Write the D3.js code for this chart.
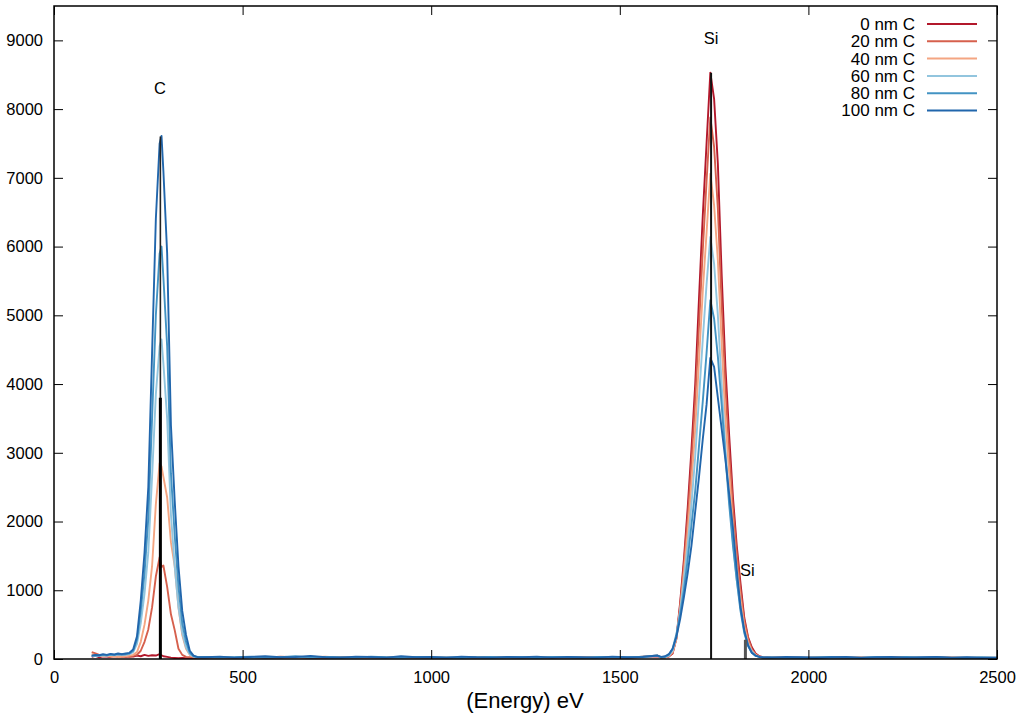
<!DOCTYPE html>
<html>
<head>
<meta charset="utf-8">
<script src="https://cdn.jsdelivr.net/npm/d3@7"></script>
<style>
  html, body { margin: 0; padding: 0; background: #fff; }
  svg { display: block; }
  text { font-family: "Liberation Sans", Arial, Helvetica, sans-serif; fill: #000; }
</style>
</head>
<body>
<svg id="chart" width="1024" height="722"></svg>
<script>
// ---------------- DATA ----------------
const energy = [
  100,110,120,130,140,150,160,170,180,
  190,200,210,220,230,240,250,260,270,280,285,290,300,310,320,330,340,350,360,370,380,
  400,440,480,520,560,600,640,680,720,760,800,840,880,920,960,1000,1040,1080,1120,1160,1200,1240,1280,1320,1360,1400,1440,1480,1520,1560,1600,
  1610,1620,1630,1640,1650,1660,1670,1680,1690,1700,1710,1720,1730,1740,1750,1760,1770,1780,1790,1800,1810,1820,1830,1840,1850,1860,1870,1880,
  1900,1940,1980,2020,2060,2100,2140,2180,2220,2260,2300,2340,2380,2420,2460,2500
];

const seriesNames = ["0 nm C", "20 nm C", "40 nm C", "60 nm C", "80 nm C", "100 nm C"];

const counts0 = [
  30,45,25,40,35,30,45,35,40,
  30,40,35,50,40,60,45,55,50,70,55,40,30,20,15,10,15,10,15,10,15,
  15,20,10,25,15,20,30,15,20,25,10,20,15,25,20,15,10,20,25,15,20,10,15,25,20,15,20,10,25,30,40,
  20,25,35,80,300,820,1450,2200,3050,4000,5250,6450,7500,8530,8150,7200,5600,4250,3250,2350,1650,1100,600,320,170,80,40,25,
  20,15,25,10,20,15,20,10,25,15,20,15,10,20,15,10
];
const counts20 = [
  100,80,60,50,45,40,35,40,30,
  40,30,45,60,120,250,430,750,1200,1480,1340,1360,1050,650,420,150,60,30,25,20,20,
  20,25,15,30,20,35,25,20,15,30,25,20,30,15,25,20,30,25,15,20,30,20,25,15,30,25,20,30,15,35,45,
  25,30,40,90,290,780,1370,2050,2850,3750,4850,5950,6950,7880,7450,6550,5150,3950,3000,2200,1550,1000,560,300,140,70,35,30,
  25,20,15,30,20,25,15,20,30,20,15,25,20,15,20,15
];
const counts40 = [
  70,55,45,40,50,35,40,30,35,
  40,50,60,100,250,500,850,1350,2250,2850,2800,2650,2350,1700,1350,750,350,150,60,35,25,
  25,15,20,25,30,20,15,25,35,20,15,25,20,30,15,25,20,15,30,25,15,20,30,20,15,25,30,20,25,30,50,
  20,20,45,100,300,720,1250,1850,2550,3350,4350,5350,6200,7060,6600,5800,4600,3500,2700,1950,1350,880,480,250,120,60,30,20,
  15,25,20,15,25,20,30,15,20,25,20,15,25,20,15,20
];
const counts60 = [
  40,50,45,55,50,60,55,60,65,
  60,70,100,220,520,950,1550,2650,3850,4550,4650,4300,3500,2100,1350,750,380,170,70,35,25,
  20,30,25,15,25,30,20,35,25,15,30,20,25,15,30,20,25,30,20,15,25,30,20,25,30,20,15,25,30,25,45,
  25,30,50,120,320,700,1150,1650,2250,2950,3800,4650,5450,6140,5750,5000,4000,3050,2350,1700,1150,740,400,210,110,50,30,25,
  20,15,25,20,15,25,20,30,15,20,25,20,15,25,20,15
];
const counts80 = [
  45,55,50,60,55,65,60,70,65,
  70,80,120,280,700,1250,2050,3500,5000,5900,6000,5550,4550,2700,1800,1050,520,250,90,40,25,
  30,20,25,35,20,25,40,20,30,25,20,35,25,20,30,25,20,15,25,30,20,25,15,30,25,20,30,25,20,35,50,
  25,30,60,150,360,650,1000,1450,1950,2450,3100,3750,4450,5220,4950,4400,3700,2950,2250,1650,1150,700,380,190,90,45,30,20,
  25,20,15,25,30,20,15,25,20,30,15,25,20,15,25,20
];
const counts100 = [
  50,60,55,70,60,75,65,80,70,
  80,90,140,330,850,1550,2500,4450,6400,7500,7610,7100,5900,3400,2300,1350,700,350,120,50,30,
  25,35,20,30,40,25,30,45,25,20,35,30,20,40,25,30,20,35,25,20,30,25,35,20,30,25,20,35,25,30,50,
  30,40,70,150,320,580,900,1250,1650,2150,2650,3200,3700,4380,4250,3800,3350,2900,2400,1900,1300,760,420,200,90,50,30,25,
  20,30,25,15,25,30,20,25,30,20,25,30,20,25,15,20
];

// reference emission lines (impulses)
const markerEnergy = [282, 282, 1742, 1833];
const markerCounts = [7600, 3800, 8530, 280];

// peak labels
const labelText   = ["C", "Si", "Si"];
const labelEnergy = [281, 1742, 1838];
const labelCounts = [8310, 9030, 1290];

const xTicks = [0, 500, 1000, 1500, 2000, 2500];
const yTicks = [0, 1000, 2000, 3000, 4000, 5000, 6000, 7000, 8000, 9000];
const xTitle = "(Energy) eV";

// ---------------- DRAW ----------------
const allCounts = [counts0, counts20, counts40, counts60, counts80, counts100];
const colors = ["#b2182b", "#d6604d", "#f4a582", "#92c5de", "#4393c3", "#2166ac"];
const markerWidths = [1.6, 3, 2, 3];
const markerColors = ["#222", "#000", "#111", "#555"];

const svg = d3.select("#chart");
const L = 54, R = 997, T = 6, B = 659;

const x = d3.scaleLinear().domain([0, 2500]).range([L, R]);
const y = d3.scaleLinear().domain([0, 9500]).range([B, T]);

const plot = svg.append("g");
plot.append("defs").append("clipPath").attr("id", "clip")
  .append("rect").attr("x", L).attr("y", T).attr("width", R - L).attr("height", B - T);

const line = d3.line()
  .defined((d) => d[1] != null)
  .x((d) => x(d[0]))
  .y((d) => y(d[1]));

const gLines = plot.append("g").attr("clip-path", "url(#clip)");
allCounts.forEach((arr, i) => {
  const pts = energy.map((e, j) => [e, arr[j]]);
  gLines.append("path")
    .attr("d", line(pts))
    .attr("fill", "none")
    .attr("stroke", colors[i])
    .attr("stroke-width", 1.9)
    .attr("stroke-linejoin", "round");
});

// impulses
markerEnergy.forEach((e, i) => {
  gLines.append("line")
    .attr("x1", x(e)).attr("x2", x(e))
    .attr("y1", y(0)).attr("y2", y(markerCounts[i]))
    .attr("stroke", markerColors[i])
    .attr("stroke-width", markerWidths[i]);
});

// axes (inward ticks, mirrored)
const axB = d3.axisBottom(x).tickValues(xTicks).tickSize(-9).tickPadding(12).tickFormat(d3.format("d"));
const axT = d3.axisTop(x).tickValues(xTicks).tickSize(-9).tickFormat("");
const axLft = d3.axisLeft(y).tickValues(yTicks).tickSize(-9).tickPadding(11).tickFormat(d3.format("d"));
const axRgt = d3.axisRight(y).tickValues(yTicks).tickSize(-9).tickFormat("");

function styleAxis(g) {
  g.select(".domain").remove();
  g.selectAll(".tick line").attr("stroke", "#000").attr("stroke-width", 1);
  g.selectAll(".tick text").style("font-size", "16.5px").attr("fill", "#000")
    .style("font-family", "'Liberation Sans', Arial, Helvetica, sans-serif");
}
svg.append("g").attr("transform", `translate(0,${B})`).call(axB).call(styleAxis);
svg.append("g").attr("transform", `translate(0,${T})`).call(axT).call(styleAxis);
svg.append("g").attr("transform", `translate(${L},0)`).call(axLft).call(styleAxis);
svg.append("g").attr("transform", `translate(${R},0)`).call(axRgt).call(styleAxis);

// border
svg.append("rect")
  .attr("x", L).attr("y", T).attr("width", R - L).attr("height", B - T)
  .attr("fill", "none").attr("stroke", "#000").attr("stroke-width", 1.5);

// labels
labelText.forEach((t, i) => {
  svg.append("text")
    .attr("x", x(labelEnergy[i]))
    .attr("y", y(labelCounts[i]))
    .attr("dy", "0.35em")
    .attr("text-anchor", "middle")
    .style("font-size", "16.5px")
    .text(t);
});

// x title
svg.append("text")
  .attr("x", 525).attr("y", 708)
  .attr("text-anchor", "middle")
  .style("font-size", "22px")
  .text(xTitle);

// legend
const legend = svg.append("g");
seriesNames.forEach((name, i) => {
  const ly = 24 + i * 17.3;
  legend.append("text")
    .attr("x", 915).attr("y", ly).attr("dy", "0.35em")
    .attr("text-anchor", "end")
    .style("font-size", "17px")
    .text(name);
  legend.append("line")
    .attr("x1", 927).attr("x2", 977)
    .attr("y1", ly).attr("y2", ly)
    .attr("stroke", colors[i]).attr("stroke-width", 2);
});
</script>
</body>
</html>
